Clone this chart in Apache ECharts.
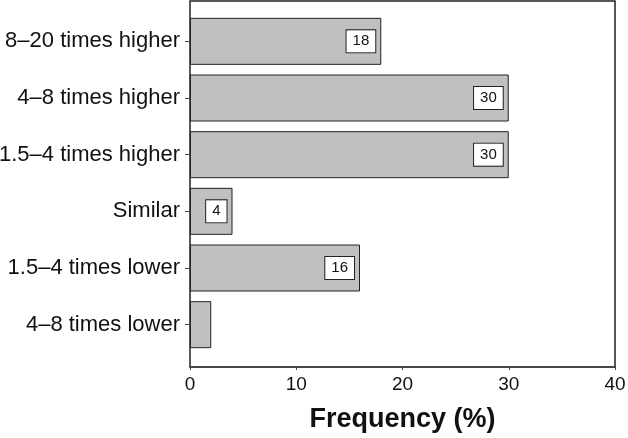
<!DOCTYPE html>
<html><head><meta charset="utf-8">
<script src="https://cdn.jsdelivr.net/npm/echarts@6/dist/echarts.min.js"></script>
<style>html,body{margin:0;padding:0;background:#fff}#c{width:628px;height:438px}</style>
</head><body><div id="c"></div>
<script>
const categories = ['4–8 times lower','1.5–4 times lower','Similar','1.5–4 times higher','4–8 times higher','8–20 times higher'];
const values = [2,16,4,30,30,18];
const xTicks = [0,10,20,30,40];

const FONT = 'Liberation Sans, Arial, sans-serif';
const chart = echarts.init(document.getElementById('c'));
chart.setOption({
  animation:false,
  textStyle:{fontFamily:FONT},
  grid:[
    {left:190,right:13,top:1,bottom:71,show:true,borderColor:'#222',borderWidth:1.5,backgroundColor:'transparent',containLabel:false,outerBoundsMode:'none'},
    {left:190,right:13,top:13,bottom:85,containLabel:false,outerBoundsMode:'none'}
  ],
  xAxis:[
    {gridIndex:0,type:'value',min:xTicks[0],max:xTicks[xTicks.length-1],interval:10,
     axisLine:{show:true,lineStyle:{color:'#444',width:1.5}},
     axisTick:{show:true,length:3,lineStyle:{color:'#444'}},
     splitLine:{show:false},
     axisLabel:{color:'#111',fontSize:19,margin:8,fontFamily:FONT},
     name:'Frequency (%)',nameLocation:'middle',nameGap:39,
     nameTextStyle:{fontSize:27,fontWeight:'bold',color:'#111',fontFamily:FONT}},
    {gridIndex:1,type:'value',min:xTicks[0],max:xTicks[xTicks.length-1],show:false}
  ],
  yAxis:[
    {gridIndex:0,type:'value',show:false},
    {gridIndex:1,type:'category',data:categories,
     axisLine:{show:false},
     axisTick:{show:true,alignWithLabel:true,length:5,lineStyle:{color:'#444'}},
     axisLabel:{color:'#111',fontSize:22,margin:10,fontFamily:FONT}}
  ],
  series:[{
    type:'bar',xAxisIndex:1,yAxisIndex:1,barWidth:47,
    itemStyle:{color:'#c0c0c0',borderColor:'#222',borderWidth:1},
    data: values.map(v=>({value:v,label:{show:v>=3}})),
    label:{position:'insideRight',distance:6,color:'#111',fontSize:15,fontFamily:FONT,
      backgroundColor:'#fff',borderColor:'#222',borderWidth:1,padding:[4,6,3,6]}
  }]
});
</script></body></html>
